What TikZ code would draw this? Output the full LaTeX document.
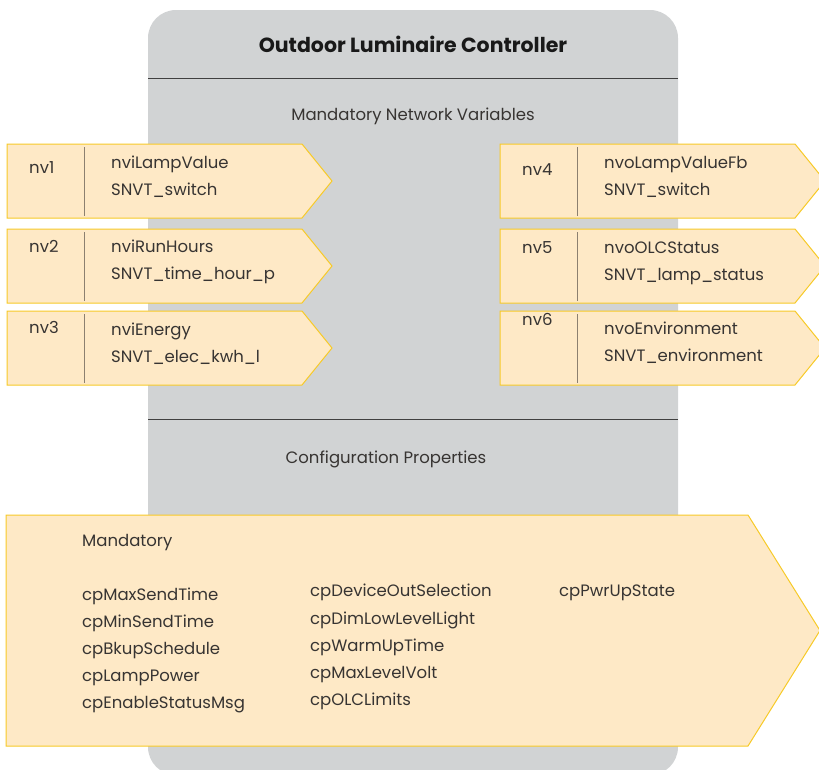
\documentclass[tikz,border=0pt]{standalone}
\usepackage{fontspec}
\setmainfont{Poppins}
\definecolor{panelgray}{RGB}{209,211,212}
\definecolor{nvfillc}{RGB}{254,233,198}
\definecolor{nvedge}{RGB}{247,202,40}
\definecolor{txtc}{RGB}{55,52,50}
\definecolor{divc}{RGB}{140,128,112}
\tikzset{
  panel/.style={fill=panelgray, draw=none, rounded corners=28pt},
  sepline/.style={draw=black!75, line width=1pt},
  nvshape/.style={fill=nvfillc, draw=nvedge, line width=1pt, line join=miter},
  nvdiv/.style={draw=divc, line width=0.9pt},
  txt/.style={text=txtc, font=\fontsize{16.5}{20}\selectfont, inner sep=0pt, anchor=mid west, yshift=-3pt},
  heading/.style={text=txtc, font=\fontsize{16.5}{20}\selectfont, inner sep=0pt, yshift=-3pt},
  title/.style={text=black!90, font=\bfseries\fontsize{20.5}{24}\selectfont, inner sep=0pt},
}
\newcommand\nvbox[8]{% #1 x, #2 y top, #3 id, #4 label, #5 label y offset, #6 name, #7 type, #8 name y offset
  \draw[nvshape] (#1,#2) -- ++(295,0) -- ++(30,37) -- ++(-30,37) -- ++(-295,0) -- cycle;
  \draw[nvdiv] (#1+77,#2+3) -- (#1+77,#2+72);
  \node[txt] (#3lab) at (#1+22,#2+#5) {#4};
  \node[txt] (#3nm) at (#1+104,#2+#8) {#6};
  \node[txt] (#3ty) at (#1+104,#2+#8+27) {#7};
}
\begin{document}
\begin{tikzpicture}[x=1pt,y=-1pt]
\useasboundingbox (0,0) rectangle (819,769);
\clip (0,0) rectangle (819,769);
% main panel
\fill[panel] (148,10) rectangle (678,775);
\node[title] (ttl) at (413,44) {Outdoor Luminaire Controller};
\draw[sepline] (148,78) -- (678,78);
\node[heading] (mnv) at (413,113) {Mandatory Network Variables};
\draw[sepline] (148,419) -- (678,419);
\node[heading] (cfg) at (386,456) {Configuration Properties};
% network variable boxes
\nvbox{7}{144}{a}{nv1}{24}{nviLampValue}{SNVT\_switch}{19}
\nvbox{7}{229}{b}{nv2}{18}{nviRunHours}{SNVT\_time\_hour\_p}{18}
\nvbox{7}{311}{c}{nv3}{17}{nviEnergy}{SNVT\_elec\_kwh\_l}{19}
\nvbox{500}{144}{d}{nv4}{26}{nvoLampValueFb}{SNVT\_switch}{19}
\nvbox{500}{229}{e}{nv5}{19}{nvoOLCStatus}{SNVT\_lamp\_status}{19}
\nvbox{500}{311}{f}{nv6}{9}{nvoEnvironment}{SNVT\_environment}{18}
% configuration properties arrow
\draw[nvshape] (6,515) -- (748,515) -- (820,630.5) -- (748,746) -- (6,746) -- cycle;
\node[txt] (mand) at (82,541) {Mandatory};
\node[txt] (p1) at (82,595) {cpMaxSendTime};
\node[txt] (p2) at (82,622) {cpMinSendTime};
\node[txt] (p3) at (82,649) {cpBkupSchedule};
\node[txt] (p4) at (82,676) {cpLampPower};
\node[txt] (p5) at (82,703) {cpEnableStatusMsg};
\node[txt] (q1) at (310,591) {cpDeviceOutSelection};
\node[txt] (q2) at (310,619) {cpDimLowLevelLight};
\node[txt] (q3) at (310,646) {cpWarmUpTime};
\node[txt] (q4) at (310,673) {cpMaxLevelVolt};
\node[txt] (q5) at (310,700) {cpOLCLimits};
\node[txt] (r1) at (559,591) {cpPwrUpState};
\end{tikzpicture}
\end{document}
